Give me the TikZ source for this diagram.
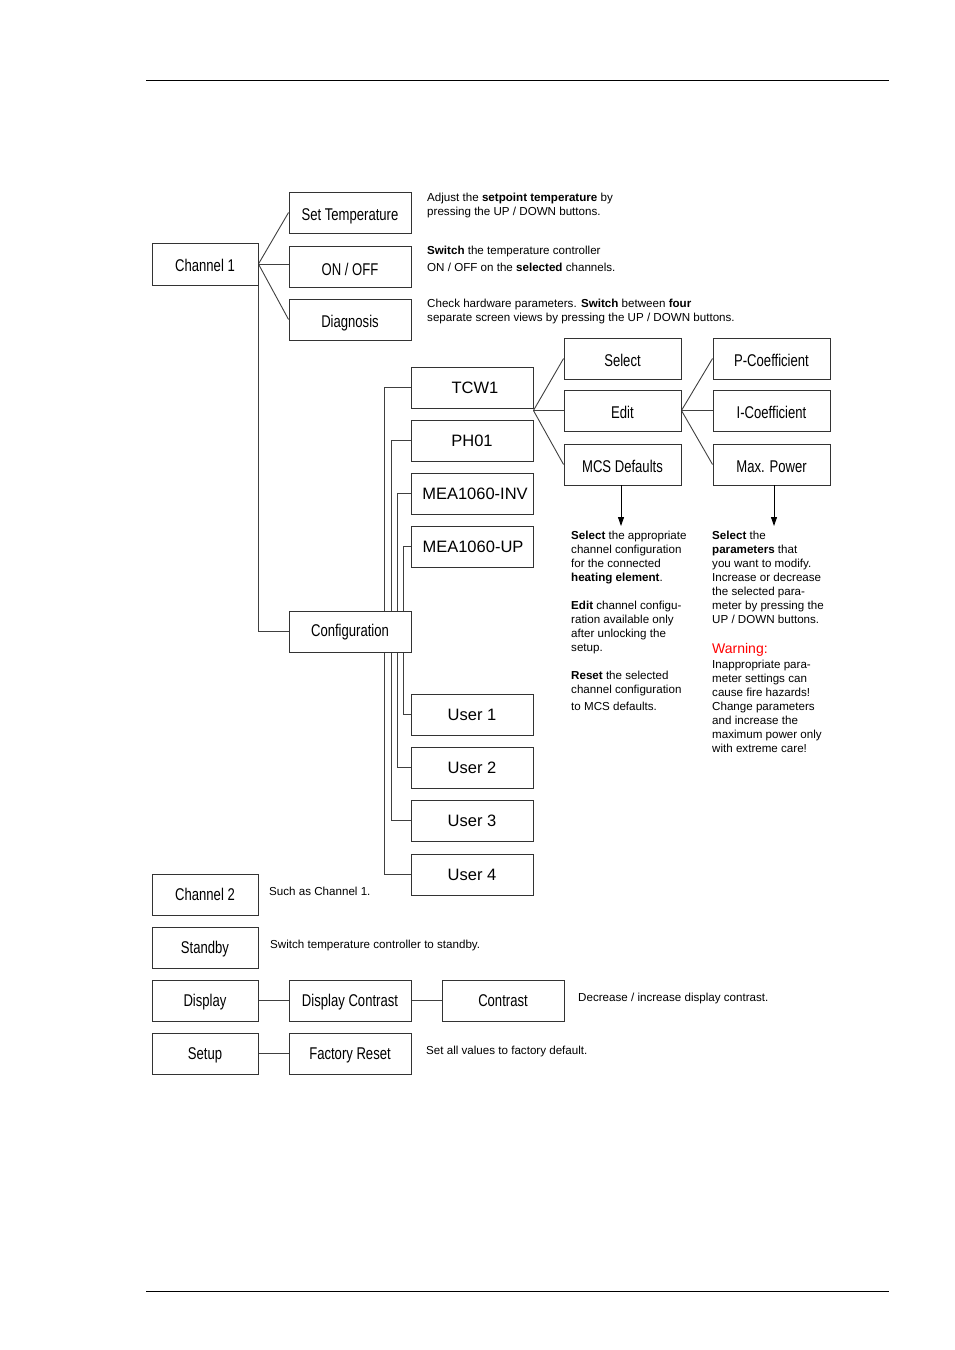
\documentclass[tikz,border=0pt]{standalone}
\usepackage{fontspec}
\setmainfont{Liberation Sans}
\newfontfamily\narrowfont[FakeStretch=0.77]{Liberation Sans}
\usetikzlibrary{arrows.meta,backgrounds}
\begin{document}
\begin{tikzpicture}[x=1pt,y=-1pt,
  box/.style={draw=black!80, line width=0.9pt, fill=white, minimum width=122, minimum height=41, inner sep=0pt},
  nbox/.style={box, font=\narrowfont\fontsize{17}{19}\selectfont, text height=15.2pt, text depth=0pt},
  lbox/.style={nbox, text height=11.2pt},
  rbox/.style={box, font=\fontsize{16.5}{18}\selectfont, text height=12.8pt, text depth=0pt},
  conn/.style={draw=black!75, line width=0.9pt},
  arr/.style={draw=black, line width=0.9pt, -{Triangle[length=9pt,width=6pt]}},
  rule/.style={draw=black, line width=1pt},
  desc/.style={anchor=north west, inner sep=0pt, align=left, font=\fontsize{11.6}{14}\selectfont},
  sdesc/.style={anchor=base west, inner sep=0pt, font=\fontsize{11.6}{14}\selectfont}
]
\useasboundingbox (0,0) rectangle (954,1350);
\coordinate (rtl) at (146,80);
\coordinate (rtr) at (889,80);
\coordinate (rbl) at (146,1291);
\coordinate (rbr) at (889,1291);
\draw[rule] (rtl) -- (rtr);
\draw[rule] (rbl) -- (rbr);

% left column
\node[nbox, minimum width=106, minimum height=42] (ch1) at (205,264) {Channel 1};
\node[nbox] (settemp) at (350,212.5) {Set Temperature};
\node[nbox, text height=17pt] (onoff) at (350,266.5) {ON / OFF};
\node[nbox] (diag) at (350,319.5) {Diagnosis};
\node[nbox, text height=10pt] (conf) at (350,631.5) {Configuration};

% configurations
\node[rbox] (tcw) at (472,387.5) {\hspace*{6pt}TCW1};
\node[rbox] (ph) at (472,440.5) {PH01};
\node[rbox] (inv) at (472,493.5) {\hspace*{6pt}MEA1060-INV};
\node[rbox] (up) at (472,546.5) {\hspace*{2pt}MEA1060-UP};
\node[rbox] (u1) at (472,714.5) {User 1};
\node[rbox] (u2) at (472,767.5) {User 2};
\node[rbox] (u3) at (472,820.5) {User 3};
\node[rbox] (u4) at (472,874.5) {User 4};

% select / edit / defaults
\node[nbox, minimum width=117] (sel) at (622.5,358.5) {Select};
\node[nbox, minimum width=117] (edit) at (622.5,410.5) {Edit};
\node[nbox, minimum width=117] (mcs) at (622.5,464.5) {MCS Defaults};
\node[nbox, minimum width=117] (pco) at (771.5,358.5) {P-Coefficient};
\node[nbox, minimum width=117] (ico) at (771.5,410.5) {I-Coefficient};
\node[nbox, minimum width=117] (maxp) at (771.5,464.5) {Max. Power};

% lower menu
\node[lbox, minimum width=106] (ch2) at (205,894.5) {Channel 2};
\node[lbox, minimum width=106] (stby) at (205,947.5) {Standby};
\node[lbox, minimum width=106] (disp) at (205,1000.5) {Display};
\node[lbox] (dcon) at (350,1000.5) {Display Contrast};
\node[lbox] (con) at (503,1000.5) {Contrast};
\node[lbox, minimum width=106] (setup) at (205,1053.5) {Setup};
\node[lbox] (fres) at (350,1053.5) {Factory Reset};

% connectors
\begin{scope}[on background layer]
\draw[conn] (ch1.east) -- (settemp.west);
\draw[conn] (ch1.east) -- (onoff.west |- ch1.east);
\draw[conn] (ch1.east) -- (diag.west);
\draw[conn] (ch1.south east) -- (ch1.south east |- conf.west) -- (conf.west);
\draw[conn] (tcw.west) -- ++(-26,0) |- (u4.west);
\draw[conn] (ph.west) -- ++(-19,0) |- (u3.west);
\draw[conn] (inv.west) -- ++(-13,0) |- (u2.west);
\draw[conn] (up.west) -- ++(-7,0) |- (u1.west);
\coordinate (tf) at (tcw.south east |- edit.west);
\draw[conn] (tf) -- (sel.west);
\draw[conn] (tf) -- (edit.west);
\draw[conn] (tf) -- (mcs.west);
\draw[conn] (edit.east) -- (pco.west);
\draw[conn] (edit.east) -- (ico.west);
\draw[conn] (edit.east) -- (maxp.west);
\draw[conn] (disp) -- (dcon);
\draw[conn] (dcon) -- (con);
\draw[conn] (setup) -- (fres);
\end{scope}

\coordinate (mcsend) at (621,526);
\coordinate (maxend) at (774,526);
\draw[arr] (mcs.south -| mcsend) -- (mcsend);
\draw[arr] (maxp.south -| maxend) -- (maxend);

% descriptions
\node[desc] (dset) at (427,192.5) {Adjust the \textbf{setpoint temperature} by\\pressing the UP / DOWN buttons.};
\node[desc] (don) at (427,245.5) {\textbf{Switch} the temperature controller\\[3pt]ON / OFF on the \textbf{selected} channels.};
\node[desc] (ddiag) at (427,298.5) {Check hardware parameters. \textbf{Switch} between \textbf{four}\\separate screen views by pressing the UP / DOWN buttons.};

\node[desc] (dm1) at (571,530.5) {\textbf{Select} the appropriate\\channel configuration\\for the connected\\\textbf{heating element}.};
\node[desc] (dm2) at (571,600.5) {\textbf{Edit} channel configu-\\ration available only\\after unlocking the\\setup.};
\node[desc] (dm3) at (571,670.5) {\textbf{Reset} the selected\\channel configuration\\[3pt]to MCS defaults.};

\node[desc] (dp1) at (712,530.5) {\textbf{Select} the\\\textbf{parameters} that\\you want to modify.\\Increase or decrease\\the selected para-\\meter by pressing the\\UP / DOWN buttons.};
\node[anchor=west, inner sep=0pt, text=red, font=\fontsize{14}{16}\selectfont] (warn) at (712,649.5) {Warning:};
\node[desc] (dp2) at (712,659.5) {Inappropriate para-\\meter settings can\\cause fire hazards!\\Change parameters\\and increase the\\maximum power only\\with extreme care!};

\node[sdesc] (dch2) at (269,895) {Such as Channel 1.};
\node[sdesc] (dstby) at (270,948) {Switch temperature controller to standby.};
\node[sdesc] (dcontr) at (578,1001) {Decrease / increase display contrast.};
\node[sdesc] (dfres) at (426,1054) {Set all values to factory default.};
\end{tikzpicture}
\end{document}
